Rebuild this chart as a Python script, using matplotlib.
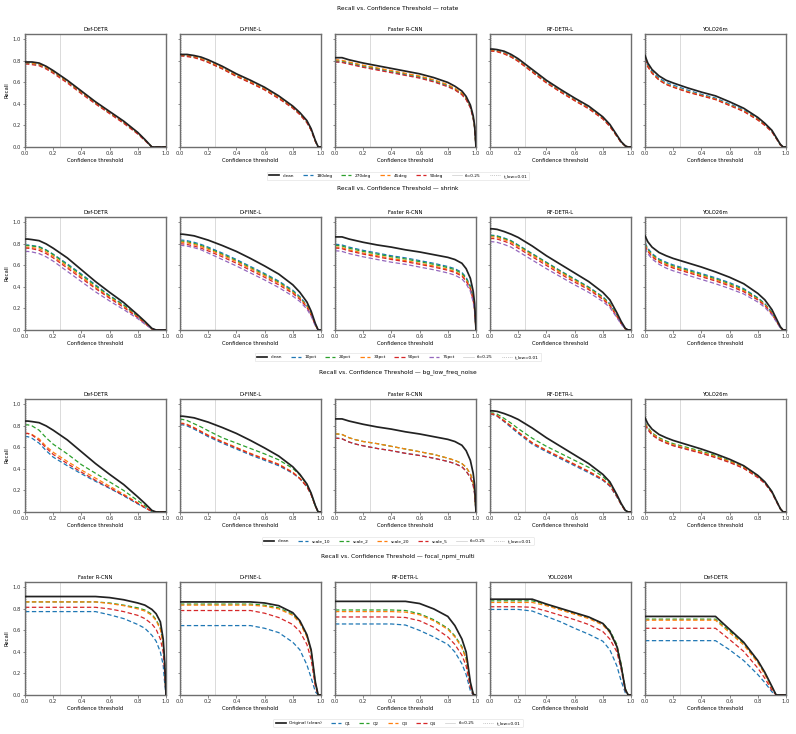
import matplotlib
matplotlib.use("Agg")
import matplotlib.pyplot as plt
from matplotlib.lines import Line2D

# ──────────────────────────────────────────────────────────────────────────────
# Data (recall at each confidence threshold)
# ──────────────────────────────────────────────────────────────────────────────

T = [0.0, 0.02, 0.05, 0.1, 0.15, 0.2, 0.3, 0.4, 0.5, 0.6, 0.7, 0.8, 0.85, 0.9, 0.93, 0.96, 0.98, 0.99, 1.0]

# rows 2 and 3 share the same clean curves
CLEAN_DEF_DETR = [0.845, 0.845, 0.84, 0.83, 0.80, 0.76, 0.67, 0.56, 0.45, 0.35, 0.255, 0.14, 0.08, 0.015, 0.0, 0.0, 0.0, 0.0, 0.0]
CLEAN_DFINE    = [0.89, 0.89, 0.885, 0.875, 0.855, 0.835, 0.785, 0.73, 0.665, 0.595, 0.52, 0.42, 0.35, 0.26, 0.175, 0.06, 0.0, 0.0, 0.0]
CLEAN_FRCNN    = [0.865, 0.865, 0.865, 0.845, 0.83, 0.815, 0.79, 0.77, 0.745, 0.725, 0.70, 0.675, 0.655, 0.62, 0.57, 0.48, 0.36, 0.25, 0.0]
CLEAN_RFDETR   = [0.94, 0.94, 0.935, 0.915, 0.89, 0.86, 0.78, 0.69, 0.61, 0.53, 0.45, 0.35, 0.28, 0.16, 0.08, 0.015, 0.0, 0.0, 0.0]
CLEAN_YOLO     = [0.875, 0.82, 0.77, 0.72, 0.69, 0.665, 0.625, 0.585, 0.54, 0.49, 0.43, 0.34, 0.28, 0.19, 0.11, 0.03, 0.0, 0.0, 0.0]

# ── rotate: clean, 180deg, 270deg, 45deg, 90deg ──────────────────────────────
ROT_LABELS = ["clean", "180deg", "270deg", "45deg", "90deg"]
ROT_MODELS = ["Def-DETR", "D-FINE-L", "Faster R-CNN", "RF-DETR-L", "YOLO26m"]
ROT_DEF_DETR = [
    [0.79, 0.79, 0.79, 0.78, 0.75, 0.71, 0.62, 0.52, 0.42, 0.33, 0.24, 0.135, 0.07, 0.0, 0.0, 0.0, 0.0, 0.0, 0.0],
    [0.78, 0.78, 0.78, 0.77, 0.74, 0.70, 0.61, 0.51, 0.41, 0.32, 0.23, 0.13, 0.065, 0.0, 0.0, 0.0, 0.0, 0.0, 0.0],
    [0.78, 0.78, 0.775, 0.765, 0.735, 0.695, 0.605, 0.505, 0.405, 0.315, 0.225, 0.125, 0.065, 0.0, 0.0, 0.0, 0.0, 0.0, 0.0],
    [0.785, 0.785, 0.78, 0.77, 0.74, 0.70, 0.61, 0.51, 0.41, 0.32, 0.23, 0.13, 0.065, 0.0, 0.0, 0.0, 0.0, 0.0, 0.0],
    [0.77, 0.77, 0.765, 0.755, 0.725, 0.685, 0.595, 0.495, 0.40, 0.31, 0.22, 0.12, 0.06, 0.0, 0.0, 0.0, 0.0, 0.0, 0.0],
]
ROT_DFINE = [
    [0.86, 0.86, 0.86, 0.85, 0.835, 0.81, 0.75, 0.68, 0.62, 0.555, 0.475, 0.38, 0.32, 0.245, 0.17, 0.06, 0.0, 0.0, 0.0],
    [0.85, 0.85, 0.85, 0.84, 0.82, 0.795, 0.735, 0.665, 0.605, 0.54, 0.46, 0.37, 0.31, 0.235, 0.16, 0.055, 0.0, 0.0, 0.0],
    [0.85, 0.85, 0.845, 0.835, 0.815, 0.79, 0.73, 0.66, 0.60, 0.535, 0.455, 0.365, 0.305, 0.23, 0.16, 0.055, 0.0, 0.0, 0.0],
    [0.855, 0.855, 0.85, 0.84, 0.82, 0.795, 0.735, 0.665, 0.605, 0.54, 0.46, 0.37, 0.31, 0.235, 0.16, 0.055, 0.0, 0.0, 0.0],
    [0.845, 0.845, 0.84, 0.83, 0.81, 0.785, 0.725, 0.655, 0.595, 0.53, 0.45, 0.36, 0.30, 0.225, 0.155, 0.05, 0.0, 0.0, 0.0],
]
ROT_FRCNN = [
    [0.83, 0.83, 0.83, 0.81, 0.795, 0.78, 0.755, 0.73, 0.705, 0.68, 0.645, 0.60, 0.565, 0.52, 0.47, 0.39, 0.29, 0.20, 0.0],
    [0.79, 0.79, 0.79, 0.775, 0.76, 0.745, 0.72, 0.695, 0.67, 0.645, 0.61, 0.565, 0.535, 0.49, 0.445, 0.37, 0.27, 0.18, 0.0],
    [0.80, 0.80, 0.80, 0.785, 0.77, 0.755, 0.73, 0.705, 0.68, 0.655, 0.62, 0.575, 0.54, 0.495, 0.45, 0.375, 0.275, 0.185, 0.0],
    [0.81, 0.81, 0.805, 0.79, 0.775, 0.76, 0.735, 0.71, 0.685, 0.66, 0.625, 0.58, 0.545, 0.50, 0.455, 0.38, 0.28, 0.19, 0.0],
    [0.79, 0.79, 0.785, 0.77, 0.755, 0.74, 0.715, 0.69, 0.665, 0.64, 0.605, 0.56, 0.53, 0.485, 0.44, 0.365, 0.265, 0.18, 0.0],
]
ROT_RFDETR = [
    [0.91, 0.91, 0.905, 0.89, 0.86, 0.82, 0.72, 0.62, 0.535, 0.455, 0.38, 0.28, 0.21, 0.11, 0.05, 0.01, 0.0, 0.0, 0.0],
    [0.90, 0.90, 0.895, 0.875, 0.845, 0.805, 0.705, 0.605, 0.52, 0.44, 0.365, 0.27, 0.20, 0.105, 0.045, 0.01, 0.0, 0.0, 0.0],
    [0.895, 0.895, 0.89, 0.87, 0.84, 0.80, 0.70, 0.60, 0.515, 0.435, 0.36, 0.265, 0.195, 0.10, 0.045, 0.01, 0.0, 0.0, 0.0],
    [0.90, 0.90, 0.89, 0.87, 0.84, 0.80, 0.70, 0.60, 0.515, 0.435, 0.36, 0.265, 0.195, 0.10, 0.045, 0.01, 0.0, 0.0, 0.0],
    [0.89, 0.89, 0.885, 0.865, 0.835, 0.795, 0.695, 0.595, 0.51, 0.43, 0.355, 0.26, 0.19, 0.10, 0.04, 0.01, 0.0, 0.0, 0.0],
]
ROT_YOLO = [
    [0.85, 0.78, 0.72, 0.66, 0.62, 0.595, 0.55, 0.51, 0.475, 0.42, 0.36, 0.275, 0.22, 0.155, 0.09, 0.025, 0.0, 0.0, 0.0],
    [0.83, 0.76, 0.70, 0.64, 0.60, 0.575, 0.53, 0.49, 0.455, 0.40, 0.345, 0.265, 0.21, 0.15, 0.085, 0.02, 0.0, 0.0, 0.0],
    [0.82, 0.75, 0.69, 0.625, 0.585, 0.56, 0.515, 0.48, 0.445, 0.39, 0.335, 0.255, 0.205, 0.145, 0.085, 0.02, 0.0, 0.0, 0.0],
    [0.82, 0.75, 0.69, 0.625, 0.585, 0.56, 0.515, 0.48, 0.445, 0.39, 0.335, 0.255, 0.205, 0.145, 0.085, 0.02, 0.0, 0.0, 0.0],
    [0.815, 0.745, 0.685, 0.62, 0.58, 0.555, 0.51, 0.475, 0.44, 0.385, 0.33, 0.25, 0.20, 0.14, 0.08, 0.02, 0.0, 0.0, 0.0],
]

# ── shrink: clean, 10pct, 20pct, 33pct, 50pct, 75pct ─────────────────────────
SHR_LABELS = ["clean", "10pct", "20pct", "33pct", "50pct", "75pct"]
SHR_MODELS = ["Def-DETR", "D-FINE-L", "Faster R-CNN", "RF-DETR-L", "YOLO26m"]
SHR_DEF_DETR = [
    CLEAN_DEF_DETR,
    [0.79, 0.79, 0.785, 0.775, 0.745, 0.705, 0.615, 0.52, 0.42, 0.32, 0.235, 0.13, 0.07, 0.01, 0.0, 0.0, 0.0, 0.0, 0.0],
    [0.785, 0.785, 0.78, 0.77, 0.74, 0.70, 0.605, 0.51, 0.41, 0.315, 0.23, 0.125, 0.07, 0.01, 0.0, 0.0, 0.0, 0.0, 0.0],
    [0.77, 0.77, 0.765, 0.755, 0.725, 0.685, 0.59, 0.495, 0.395, 0.305, 0.22, 0.12, 0.065, 0.01, 0.0, 0.0, 0.0, 0.0, 0.0],
    [0.76, 0.76, 0.755, 0.74, 0.71, 0.67, 0.575, 0.48, 0.385, 0.295, 0.21, 0.115, 0.06, 0.01, 0.0, 0.0, 0.0, 0.0, 0.0],
    [0.73, 0.73, 0.725, 0.71, 0.68, 0.64, 0.545, 0.45, 0.355, 0.27, 0.19, 0.105, 0.055, 0.01, 0.0, 0.0, 0.0, 0.0, 0.0],
]
SHR_DFINE = [
    CLEAN_DFINE,
    [0.835, 0.835, 0.83, 0.815, 0.795, 0.77, 0.715, 0.655, 0.59, 0.525, 0.455, 0.37, 0.31, 0.23, 0.155, 0.05, 0.0, 0.0, 0.0],
    [0.825, 0.825, 0.82, 0.805, 0.785, 0.76, 0.705, 0.645, 0.58, 0.515, 0.445, 0.36, 0.30, 0.225, 0.15, 0.05, 0.0, 0.0, 0.0],
    [0.815, 0.815, 0.81, 0.795, 0.775, 0.75, 0.695, 0.635, 0.57, 0.505, 0.435, 0.35, 0.295, 0.22, 0.145, 0.045, 0.0, 0.0, 0.0],
    [0.80, 0.80, 0.795, 0.78, 0.76, 0.735, 0.68, 0.62, 0.555, 0.49, 0.42, 0.34, 0.285, 0.21, 0.14, 0.045, 0.0, 0.0, 0.0],
    [0.785, 0.785, 0.78, 0.765, 0.745, 0.715, 0.655, 0.595, 0.53, 0.465, 0.395, 0.315, 0.265, 0.195, 0.13, 0.04, 0.0, 0.0, 0.0],
]
SHR_FRCNN = [
    CLEAN_FRCNN,
    [0.795, 0.795, 0.79, 0.77, 0.755, 0.74, 0.715, 0.69, 0.67, 0.645, 0.62, 0.59, 0.57, 0.535, 0.49, 0.41, 0.30, 0.20, 0.0],
    [0.785, 0.785, 0.78, 0.76, 0.745, 0.73, 0.705, 0.68, 0.66, 0.635, 0.61, 0.58, 0.56, 0.525, 0.48, 0.40, 0.295, 0.195, 0.0],
    [0.77, 0.77, 0.765, 0.745, 0.73, 0.715, 0.69, 0.665, 0.645, 0.62, 0.595, 0.565, 0.545, 0.51, 0.465, 0.39, 0.285, 0.19, 0.0],
    [0.76, 0.76, 0.755, 0.735, 0.72, 0.705, 0.68, 0.655, 0.635, 0.61, 0.585, 0.555, 0.535, 0.50, 0.455, 0.38, 0.28, 0.185, 0.0],
    [0.735, 0.735, 0.73, 0.71, 0.695, 0.68, 0.655, 0.63, 0.61, 0.585, 0.56, 0.53, 0.51, 0.475, 0.43, 0.36, 0.26, 0.17, 0.0],
]
SHR_RFDETR = [
    CLEAN_RFDETR,
    [0.88, 0.88, 0.875, 0.855, 0.83, 0.79, 0.71, 0.63, 0.55, 0.475, 0.40, 0.31, 0.245, 0.14, 0.07, 0.01, 0.0, 0.0, 0.0],
    [0.875, 0.875, 0.87, 0.85, 0.825, 0.785, 0.705, 0.625, 0.545, 0.47, 0.395, 0.305, 0.24, 0.135, 0.065, 0.01, 0.0, 0.0, 0.0],
    [0.865, 0.865, 0.86, 0.84, 0.815, 0.775, 0.695, 0.615, 0.535, 0.46, 0.385, 0.295, 0.235, 0.13, 0.065, 0.01, 0.0, 0.0, 0.0],
    [0.85, 0.85, 0.845, 0.825, 0.80, 0.76, 0.68, 0.60, 0.52, 0.445, 0.375, 0.285, 0.225, 0.125, 0.06, 0.01, 0.0, 0.0, 0.0],
    [0.82, 0.82, 0.815, 0.795, 0.77, 0.73, 0.65, 0.57, 0.495, 0.42, 0.35, 0.265, 0.21, 0.115, 0.055, 0.01, 0.0, 0.0, 0.0],
]
SHR_YOLO = [
    CLEAN_YOLO,
    [0.81, 0.76, 0.71, 0.66, 0.63, 0.605, 0.565, 0.525, 0.485, 0.44, 0.385, 0.30, 0.245, 0.165, 0.095, 0.025, 0.0, 0.0, 0.0],
    [0.80, 0.75, 0.70, 0.65, 0.62, 0.595, 0.555, 0.515, 0.475, 0.43, 0.375, 0.295, 0.24, 0.16, 0.09, 0.025, 0.0, 0.0, 0.0],
    [0.79, 0.74, 0.69, 0.64, 0.61, 0.585, 0.545, 0.505, 0.465, 0.42, 0.365, 0.285, 0.235, 0.155, 0.09, 0.025, 0.0, 0.0, 0.0],
    [0.78, 0.73, 0.68, 0.63, 0.60, 0.575, 0.535, 0.495, 0.455, 0.41, 0.355, 0.28, 0.225, 0.15, 0.085, 0.02, 0.0, 0.0, 0.0],
    [0.76, 0.71, 0.66, 0.61, 0.575, 0.55, 0.51, 0.47, 0.43, 0.385, 0.335, 0.26, 0.21, 0.14, 0.08, 0.02, 0.0, 0.0, 0.0],
]

# ── bg_low_freq_noise: clean, scale_10, scale_2, scale_20, scale_5 ───────────
BG_LABELS = ["clean", "scale_10", "scale_2", "scale_20", "scale_5"]
BG_MODELS = ["Def-DETR", "D-FINE-L", "Faster R-CNN", "RF-DETR-L", "YOLO26m"]
BG_DEF_DETR = [
    CLEAN_DEF_DETR,
    [0.70, 0.70, 0.685, 0.64, 0.57, 0.51, 0.43, 0.355, 0.285, 0.22, 0.15, 0.075, 0.04, 0.005, 0.0, 0.0, 0.0, 0.0, 0.0],
    [0.81, 0.81, 0.80, 0.76, 0.69, 0.63, 0.54, 0.44, 0.36, 0.28, 0.20, 0.105, 0.06, 0.01, 0.0, 0.0, 0.0, 0.0, 0.0],
    [0.73, 0.73, 0.72, 0.68, 0.61, 0.555, 0.47, 0.39, 0.315, 0.24, 0.165, 0.085, 0.045, 0.005, 0.0, 0.0, 0.0, 0.0, 0.0],
    [0.73, 0.73, 0.715, 0.665, 0.595, 0.535, 0.45, 0.37, 0.295, 0.225, 0.155, 0.08, 0.04, 0.005, 0.0, 0.0, 0.0, 0.0, 0.0],
]
BG_DFINE = [
    CLEAN_DFINE,
    [0.81, 0.81, 0.80, 0.77, 0.735, 0.70, 0.64, 0.585, 0.53, 0.48, 0.43, 0.36, 0.31, 0.235, 0.165, 0.055, 0.0, 0.0, 0.0],
    [0.86, 0.86, 0.85, 0.82, 0.79, 0.755, 0.69, 0.64, 0.59, 0.54, 0.485, 0.405, 0.345, 0.255, 0.17, 0.055, 0.0, 0.0, 0.0],
    [0.825, 0.825, 0.815, 0.785, 0.75, 0.715, 0.655, 0.60, 0.545, 0.495, 0.445, 0.37, 0.315, 0.24, 0.165, 0.055, 0.0, 0.0, 0.0],
    [0.82, 0.82, 0.81, 0.78, 0.745, 0.71, 0.65, 0.595, 0.54, 0.49, 0.44, 0.365, 0.31, 0.235, 0.16, 0.055, 0.0, 0.0, 0.0],
]
BG_FRCNN = [
    CLEAN_FRCNN,
    [0.685, 0.685, 0.68, 0.65, 0.63, 0.615, 0.59, 0.57, 0.545, 0.525, 0.50, 0.47, 0.45, 0.42, 0.38, 0.32, 0.25, 0.17, 0.0],
    [0.725, 0.725, 0.72, 0.69, 0.67, 0.655, 0.635, 0.61, 0.585, 0.56, 0.535, 0.50, 0.48, 0.45, 0.415, 0.355, 0.275, 0.195, 0.0],
    [0.725, 0.725, 0.72, 0.69, 0.67, 0.655, 0.635, 0.61, 0.585, 0.56, 0.535, 0.50, 0.48, 0.45, 0.415, 0.355, 0.275, 0.195, 0.0],
    [0.685, 0.685, 0.68, 0.65, 0.63, 0.615, 0.59, 0.57, 0.545, 0.525, 0.50, 0.47, 0.45, 0.42, 0.38, 0.32, 0.25, 0.17, 0.0],
]
BG_RFDETR = [
    CLEAN_RFDETR,
    [0.905, 0.905, 0.89, 0.84, 0.785, 0.73, 0.63, 0.56, 0.495, 0.43, 0.365, 0.295, 0.24, 0.14, 0.07, 0.01, 0.0, 0.0, 0.0],
    [0.92, 0.92, 0.91, 0.87, 0.825, 0.775, 0.685, 0.61, 0.545, 0.48, 0.415, 0.33, 0.265, 0.155, 0.075, 0.015, 0.0, 0.0, 0.0],
    [0.91, 0.91, 0.895, 0.85, 0.80, 0.745, 0.645, 0.575, 0.51, 0.445, 0.38, 0.305, 0.25, 0.15, 0.07, 0.01, 0.0, 0.0, 0.0],
    [0.91, 0.91, 0.895, 0.845, 0.795, 0.74, 0.64, 0.57, 0.505, 0.44, 0.375, 0.30, 0.245, 0.145, 0.07, 0.01, 0.0, 0.0, 0.0],
]
BG_YOLO = [
    CLEAN_YOLO,
    [0.815, 0.77, 0.72, 0.675, 0.645, 0.62, 0.585, 0.55, 0.51, 0.465, 0.41, 0.325, 0.27, 0.185, 0.105, 0.03, 0.0, 0.0, 0.0],
    [0.83, 0.785, 0.735, 0.69, 0.66, 0.635, 0.60, 0.565, 0.525, 0.475, 0.42, 0.33, 0.275, 0.19, 0.11, 0.03, 0.0, 0.0, 0.0],
    [0.82, 0.78, 0.73, 0.68, 0.65, 0.625, 0.59, 0.555, 0.515, 0.47, 0.415, 0.33, 0.27, 0.185, 0.105, 0.03, 0.0, 0.0, 0.0],
    [0.81, 0.765, 0.715, 0.67, 0.64, 0.615, 0.58, 0.545, 0.505, 0.46, 0.405, 0.32, 0.265, 0.18, 0.10, 0.03, 0.0, 0.0, 0.0],
]

# ── focal_npmi_multi: Original (clean), Q1, Q2, Q3, Q4 ───────────────────────
FOC_LABELS = ["Original (clean)", "Q1", "Q2", "Q3", "Q4"]
FOC_MODELS = ["Faster R-CNN", "D-FINE-L", "RF-DETR-L", "YOLO26M", "Def-DETR"]
FOC_FRCNN = [
    [0.915, 0.915, 0.915, 0.915, 0.915, 0.915, 0.915, 0.915, 0.915, 0.905, 0.885, 0.855, 0.835, 0.795, 0.755, 0.68, 0.52, 0.32, 0.0],
    [0.775, 0.775, 0.775, 0.775, 0.775, 0.775, 0.775, 0.775, 0.775, 0.745, 0.71, 0.655, 0.62, 0.555, 0.50, 0.40, 0.28, 0.12, 0.0],
    [0.865, 0.865, 0.865, 0.865, 0.865, 0.865, 0.865, 0.865, 0.865, 0.855, 0.835, 0.81, 0.79, 0.75, 0.70, 0.62, 0.48, 0.30, 0.0],
    [0.865, 0.865, 0.865, 0.865, 0.865, 0.865, 0.865, 0.865, 0.865, 0.85, 0.83, 0.80, 0.78, 0.74, 0.69, 0.61, 0.47, 0.28, 0.0],
    [0.815, 0.815, 0.815, 0.815, 0.815, 0.815, 0.815, 0.815, 0.815, 0.80, 0.775, 0.74, 0.71, 0.66, 0.61, 0.52, 0.40, 0.22, 0.0],
]
FOC_DFINE = [
    [0.865, 0.865, 0.865, 0.865, 0.865, 0.865, 0.865, 0.865, 0.865, 0.855, 0.83, 0.765, 0.69, 0.56, 0.42, 0.12, 0.0, 0.0, 0.0],
    [0.645, 0.645, 0.645, 0.645, 0.645, 0.645, 0.645, 0.645, 0.645, 0.62, 0.58, 0.49, 0.42, 0.28, 0.16, 0.03, 0.0, 0.0, 0.0],
    [0.845, 0.845, 0.845, 0.845, 0.845, 0.845, 0.845, 0.845, 0.845, 0.835, 0.81, 0.75, 0.68, 0.55, 0.41, 0.11, 0.0, 0.0, 0.0],
    [0.835, 0.835, 0.835, 0.835, 0.835, 0.835, 0.835, 0.835, 0.835, 0.825, 0.80, 0.74, 0.67, 0.54, 0.40, 0.10, 0.0, 0.0, 0.0],
    [0.785, 0.785, 0.785, 0.785, 0.785, 0.785, 0.785, 0.785, 0.785, 0.76, 0.72, 0.655, 0.59, 0.47, 0.33, 0.08, 0.0, 0.0, 0.0],
]
FOC_RFDETR = [
    [0.87, 0.87, 0.87, 0.87, 0.87, 0.87, 0.87, 0.87, 0.87, 0.85, 0.80, 0.73, 0.645, 0.52, 0.40, 0.12, 0.01, 0.0, 0.0],
    [0.66, 0.66, 0.66, 0.66, 0.66, 0.66, 0.66, 0.66, 0.65, 0.60, 0.54, 0.47, 0.40, 0.29, 0.19, 0.04, 0.0, 0.0, 0.0],
    [0.79, 0.79, 0.79, 0.79, 0.79, 0.79, 0.79, 0.79, 0.785, 0.755, 0.70, 0.62, 0.55, 0.45, 0.34, 0.10, 0.01, 0.0, 0.0],
    [0.775, 0.775, 0.775, 0.775, 0.775, 0.775, 0.775, 0.775, 0.77, 0.745, 0.69, 0.61, 0.54, 0.44, 0.33, 0.09, 0.01, 0.0, 0.0],
    [0.725, 0.725, 0.725, 0.725, 0.725, 0.725, 0.725, 0.725, 0.72, 0.69, 0.63, 0.54, 0.47, 0.37, 0.27, 0.07, 0.0, 0.0, 0.0],
]
FOC_YOLO = [
    [0.89, 0.89, 0.89, 0.89, 0.89, 0.89, 0.89, 0.845, 0.805, 0.765, 0.725, 0.665, 0.59, 0.45, 0.27, 0.05, 0.0, 0.0, 0.0],
    [0.795, 0.795, 0.795, 0.795, 0.795, 0.795, 0.78, 0.73, 0.68, 0.62, 0.565, 0.50, 0.42, 0.27, 0.13, 0.02, 0.0, 0.0, 0.0],
    [0.875, 0.875, 0.875, 0.875, 0.875, 0.875, 0.875, 0.84, 0.80, 0.76, 0.72, 0.665, 0.60, 0.47, 0.29, 0.06, 0.0, 0.0, 0.0],
    [0.86, 0.86, 0.86, 0.86, 0.86, 0.86, 0.86, 0.83, 0.79, 0.75, 0.71, 0.65, 0.58, 0.45, 0.27, 0.05, 0.0, 0.0, 0.0],
    [0.82, 0.82, 0.82, 0.82, 0.82, 0.82, 0.815, 0.78, 0.74, 0.70, 0.655, 0.59, 0.52, 0.40, 0.24, 0.04, 0.0, 0.0, 0.0],
]
FOC_DEF_DETR = [
    [0.73, 0.73, 0.73, 0.73, 0.73, 0.73, 0.73, 0.73, 0.73, 0.61, 0.49, 0.32, 0.21, 0.08, 0.0, 0.0, 0.0, 0.0, 0.0],
    [0.505, 0.505, 0.505, 0.505, 0.505, 0.505, 0.505, 0.505, 0.505, 0.42, 0.32, 0.19, 0.115, 0.03, 0.0, 0.0, 0.0, 0.0, 0.0],
    [0.705, 0.705, 0.705, 0.705, 0.705, 0.705, 0.705, 0.705, 0.705, 0.595, 0.48, 0.31, 0.20, 0.07, 0.0, 0.0, 0.0, 0.0, 0.0],
    [0.695, 0.695, 0.695, 0.695, 0.695, 0.695, 0.695, 0.695, 0.695, 0.58, 0.465, 0.30, 0.19, 0.065, 0.0, 0.0, 0.0, 0.0, 0.0],
    [0.62, 0.62, 0.62, 0.62, 0.62, 0.62, 0.62, 0.62, 0.62, 0.515, 0.405, 0.25, 0.155, 0.045, 0.0, 0.0, 0.0, 0.0, 0.0],
]

ROWS = [
    ("rotate", ROT_MODELS, ROT_LABELS, [ROT_DEF_DETR, ROT_DFINE, ROT_FRCNN, ROT_RFDETR, ROT_YOLO]),
    ("shrink", SHR_MODELS, SHR_LABELS, [SHR_DEF_DETR, SHR_DFINE, SHR_FRCNN, SHR_RFDETR, SHR_YOLO]),
    ("bg_low_freq_noise", BG_MODELS, BG_LABELS, [BG_DEF_DETR, BG_DFINE, BG_FRCNN, BG_RFDETR, BG_YOLO]),
    ("focal_npmi_multi", FOC_MODELS, FOC_LABELS, [FOC_FRCNN, FOC_DFINE, FOC_RFDETR, FOC_YOLO, FOC_DEF_DETR]),
]

COLORS = ["#222222", "tab:blue", "tab:green", "tab:orange", "tab:red", "tab:purple"]

# ──────────────────────────────────────────────────────────────────────────────
# Layout (pixel geometry of the 796 x 734 canvas)
# ──────────────────────────────────────────────────────────────────────────────

W, H = 796, 734
AX_LEFTS = [25, 180, 335, 490, 645]
AX_W, AX_H = 141, 113
ROW_TOPS = [34, 217, 399, 582]
ROW_TITLE_Y = [8, 188, 372, 556]
LEGEND_Y = [176, 357, 541, 723]

FS = 3.8
DASH = (0, (3.5, 2))


def style_axes(ax, first):
    ax.set_xlim(0, 1)
    ax.set_ylim(0, 1.05)
    ax.set_xticks([0, 0.2, 0.4, 0.6, 0.8, 1.0])
    ax.set_yticks([0, 0.2, 0.4, 0.6, 0.8, 1.0])
    ax.tick_params(labelsize=FS, length=1.8, width=0.4, pad=1.2, colors="#333333")
    if not first:
        ax.set_yticklabels([])
    else:
        ax.set_ylabel("Recall", fontsize=FS, labelpad=2)
    ax.set_xlabel("Confidence threshold", fontsize=FS, labelpad=1.5)
    for s in ax.spines.values():
        s.set_color("#6e6e6e")
        s.set_linewidth(1.0)


fig = plt.figure(figsize=(W / 100, H / 100), dpi=100)

for r, (name, models, labels, panels) in enumerate(ROWS):
    fig.text(0.5, 1 - ROW_TITLE_Y[r] / H, f"Recall vs. Confidence Threshold \u2014 {name}",
             ha="center", va="center", fontsize=4.2)
    for c, (model, series) in enumerate(zip(models, panels)):
        ax = fig.add_axes([AX_LEFTS[c] / W, 1 - (ROW_TOPS[r] + AX_H) / H, AX_W / W, AX_H / H])
        for i, ys in enumerate(series):
            if i == 0:
                ax.plot(T, ys, color=COLORS[0], lw=1.25, zorder=3)
            else:
                ax.plot(T, ys, color=COLORS[i], lw=0.9, ls=DASH, zorder=2)
        ax.axvline(0.25, color="#cccccc", lw=0.5, zorder=1)
        ax.axvline(0.01, color="#999999", lw=0.5, ls=":", zorder=1)
        ax.set_title(model, fontsize=FS, pad=2.5)
        style_axes(ax, c == 0)

    handles = [Line2D([], [], color=COLORS[0], lw=1.25)]
    handles += [Line2D([], [], color=COLORS[i], lw=0.9, ls=DASH) for i in range(1, len(labels))]
    handles += [Line2D([], [], color="#cccccc", lw=0.5),
                Line2D([], [], color="#999999", lw=0.5, ls=":")]
    leg = fig.legend(handles, labels + ["tl=0.25", "t_low=0.01"], loc="center",
                     bbox_to_anchor=(0.5, 1 - LEGEND_Y[r] / H), ncol=len(handles),
                     fontsize=3.1, frameon=True, handlelength=2.4, columnspacing=2.0,
                     handletextpad=0.8, borderpad=0.5)
    leg.get_frame().set_edgecolor("#dddddd")
    leg.get_frame().set_linewidth(0.5)

fig.savefig("out.png", dpi=100)
